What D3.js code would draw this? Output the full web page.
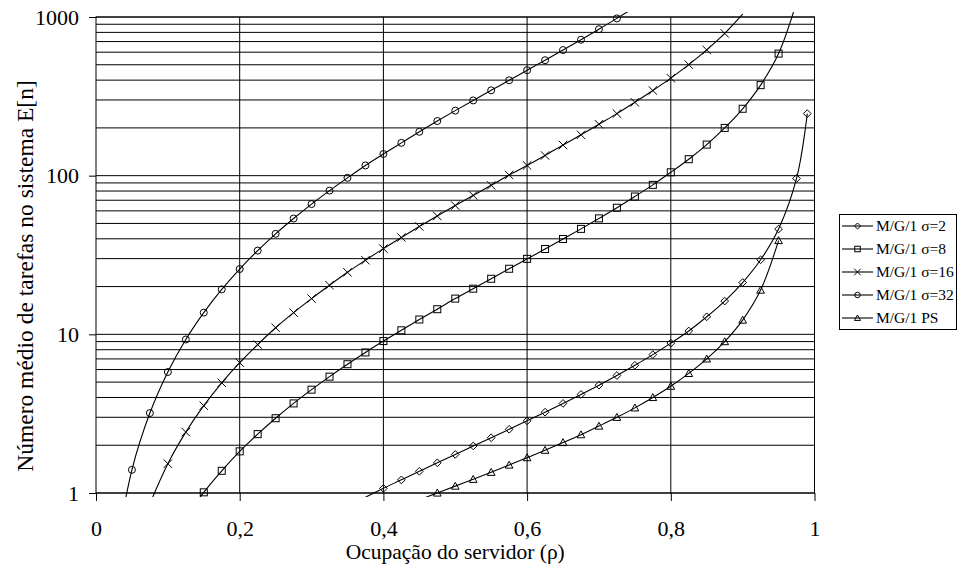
<!DOCTYPE html>
<html>
<head>
<meta charset="utf-8">
<script src="https://cdn.jsdelivr.net/npm/d3@7"></script>
<style>
  body { margin: 0; background: #fff; }
  svg { display: block; }
  svg text { font-family: "Liberation Serif", "Times New Roman", serif; }
</style>
</head>
<body>
<div id="container"></div>
<script>
// values
const rhoS2 = [0.375, 0.4, 0.425, 0.45, 0.475, 0.5, 0.525, 0.55, 0.575, 0.6, 0.625, 0.65, 0.675, 0.7, 0.725, 0.75, 0.775, 0.8, 0.825, 0.85, 0.875, 0.9, 0.925, 0.95, 0.975, 0.99];
const nS2 = [0.94, 1.07, 1.21, 1.37, 1.55, 1.75, 1.98, 2.23, 2.52, 2.85, 3.23, 3.67, 4.18, 4.78, 5.5, 6.38, 7.45, 8.8, 10.5, 12.9, 16.2, 21.2, 29.5, 46.1, 96, 246];

const rhoS8 = [0.125, 0.15, 0.175, 0.2, 0.225, 0.25, 0.275, 0.3, 0.325, 0.35, 0.375, 0.4, 0.425, 0.45, 0.475, 0.5, 0.525, 0.55, 0.575, 0.6, 0.625, 0.65, 0.675, 0.7, 0.725, 0.75, 0.775, 0.8, 0.825, 0.85, 0.875, 0.9, 0.925, 0.95, 0.975];
const nS8 = [0.705, 1.01, 1.38, 1.83, 2.35, 2.96, 3.67, 4.48, 5.41, 6.48, 7.69, 9.07, 10.6, 12.4, 14.4, 16.8, 19.4, 22.4, 25.9, 29.9, 34.5, 39.9, 46.2, 53.8, 62.8, 73.9, 87.5, 105, 127, 157, 200, 264, 372, 588, 1237];

const rhoS16 = [0.075, 0.1, 0.125, 0.15, 0.175, 0.2, 0.225, 0.25, 0.275, 0.3, 0.325, 0.35, 0.375, 0.4, 0.425, 0.45, 0.475, 0.5, 0.525, 0.55, 0.575, 0.6, 0.625, 0.65, 0.675, 0.7, 0.725, 0.75, 0.775, 0.8, 0.825, 0.85, 0.875, 0.9];
const nS16 = [0.856, 1.53, 2.42, 3.55, 4.95, 6.63, 8.62, 11.0, 13.7, 16.8, 20.4, 24.6, 29.3, 34.7, 40.8, 47.8, 55.7, 64.8, 75.1, 86.9, 101, 116, 134, 156, 181, 211, 246, 290, 344, 412, 501, 620, 788, 1042];

const rhoS32 = [0.025, 0.05, 0.075, 0.1, 0.125, 0.15, 0.175, 0.2, 0.225, 0.25, 0.275, 0.3, 0.325, 0.35, 0.375, 0.4, 0.425, 0.45, 0.475, 0.5, 0.525, 0.55, 0.575, 0.6, 0.625, 0.65, 0.675, 0.7, 0.725, 0.75];
const nS32 = [0.354, 1.4, 3.19, 5.79, 9.28, 13.7, 19.2, 25.8, 33.7, 43.0, 53.7, 66.2, 80.5, 96.9, 116, 137, 161, 189, 221, 257, 298, 345, 399, 462, 534, 619, 719, 838, 980, 1154];

const rhoPS = [0.45, 0.475, 0.5, 0.525, 0.55, 0.575, 0.6, 0.625, 0.65, 0.675, 0.7, 0.725, 0.75, 0.775, 0.8, 0.825, 0.85, 0.875, 0.9, 0.925, 0.95];
const nPS = [0.905, 1, 1.105, 1.22, 1.35, 1.5, 1.67, 1.86, 2.08, 2.33, 2.64, 3, 3.44, 4, 4.71, 5.67, 7, 9, 12.3, 19, 39];

const seriesNames = ["M/G/1 σ=2", "M/G/1 σ=8", "M/G/1 σ=16", "M/G/1 σ=32", "M/G/1 PS"];
const seriesMarkers = ["diamond", "square", "cross", "circle", "triangle"];
const xTicks = [0, 0.2, 0.4, 0.6, 0.8, 1];
const yTicks = [1, 10, 100, 1000];

const series = [
  { name: seriesNames[0], marker: seriesMarkers[0], rho: rhoS2, n: nS2 },
  { name: seriesNames[1], marker: seriesMarkers[1], rho: rhoS8, n: nS8 },
  { name: seriesNames[2], marker: seriesMarkers[2], rho: rhoS16, n: nS16 },
  { name: seriesNames[3], marker: seriesMarkers[3], rho: rhoS32, n: nS32 },
  { name: seriesNames[4], marker: seriesMarkers[4], rho: rhoPS, n: nPS }
];

const W = 958, H = 567;
const plot = { left: 96, right: 814.5, top: 17, bottom: 493 };

const svg = d3.select("#container").append("svg")
  .attr("width", W)
  .attr("height", H);

const x = d3.scaleLinear().domain([0, 1]).range([plot.left, plot.right]);
const y = d3.scaleLog().domain([1, 1000]).range([plot.bottom, plot.top]);

// horizontal gridlines at every log step
const minor = [];
[1, 10, 100].forEach(dec => {
  for (let k = 1; k <= 10; k++) minor.push(dec * k);
});
svg.append("g")
  .selectAll("line")
  .data(Array.from(new Set(minor)))
  .join("line")
  .attr("x1", plot.left).attr("x2", plot.right)
  .attr("y1", d => y(d)).attr("y2", d => y(d))
  .attr("stroke", "#000")
  .attr("stroke-width", 1);

// vertical gridlines
svg.append("g")
  .selectAll("line")
  .data(xTicks.slice(1, -1))
  .join("line")
  .attr("x1", d => x(d)).attr("x2", d => x(d))
  .attr("y1", plot.top).attr("y2", plot.bottom)
  .attr("stroke", "#000")
  .attr("stroke-width", 1);

// plot frame
svg.append("rect")
  .attr("x", plot.left).attr("y", plot.top)
  .attr("width", plot.right - plot.left)
  .attr("height", plot.bottom - plot.top)
  .attr("fill", "none")
  .attr("stroke", "#000")
  .attr("stroke-width", 1);

// y axis
const yAxis = svg.append("g")
  .attr("transform", `translate(${plot.left},0)`)
  .call(d3.axisLeft(y).tickValues(yTicks).tickFormat(d3.format("d")).tickSize(7).tickPadding(10));
yAxis.select(".domain").remove();
yAxis.selectAll("text").attr("fill", "#000").style("font-size", "22px");

// x axis
const xAxis = svg.append("g")
  .attr("transform", `translate(0,${plot.bottom})`)
  .call(d3.axisBottom(x).tickValues(xTicks)
    .tickFormat(d => d3.format("")(d).replace(".", ","))
    .tickSize(8).tickPadding(19));
xAxis.select(".domain").remove();
xAxis.selectAll("text").attr("fill", "#000").style("font-size", "22px");

// axis titles
svg.append("text")
  .attr("x", (plot.left + plot.right) / 2)
  .attr("y", 559)
  .attr("text-anchor", "middle")
  .style("font-size", "21.5px")
  .text("Ocupação do servidor (ρ)");

svg.append("text")
  .attr("transform", "translate(33,276) rotate(-90)")
  .attr("text-anchor", "middle")
  .style("font-size", "23.5px")
  .text("Número médio de tarefas no sistema E[n]");

// clip a bit outside the frame, like the reference
svg.append("clipPath").attr("id", "clip")
  .append("rect")
  .attr("x", plot.left).attr("y", plot.top - 5)
  .attr("width", plot.right - plot.left)
  .attr("height", plot.bottom - plot.top + 9);

const line = d3.line()
  .x(d => x(d[0]))
  .y(d => y(d[1]))
  .curve(d3.curveCatmullRom.alpha(0.5));

function drawMarker(g, type, s) {
  if (type === "circle") {
    g.append("circle").attr("r", s * 0.5);
  } else if (type === "square") {
    g.append("rect").attr("x", -s / 2).attr("y", -s / 2).attr("width", s).attr("height", s);
  } else if (type === "diamond") {
    const h = s * 0.55;
    g.append("path").attr("d", `M0,${-h}L${h},0L0,${h}L${-h},0Z`);
  } else if (type === "triangle") {
    const h = s * 0.55;
    g.append("path").attr("d", `M0,${-h}L${h},${h * 0.8}L${-h},${h * 0.8}Z`);
  } else if (type === "cross") {
    const h = s * 0.6;
    g.append("path").attr("d", `M${-h},${-h}L${h},${h}M${h},${-h}L${-h},${h}`);
  }
}

const plotG = svg.append("g").attr("clip-path", "url(#clip)");

series.forEach(s => {
  const pts = s.rho.map((r, i) => [r, s.n[i]]);
  plotG.append("path")
    .datum(pts)
    .attr("d", line)
    .attr("fill", "none")
    .attr("stroke", "#000")
    .attr("stroke-width", 1.1);

  pts.filter(p => p[1] >= 0.99 && p[1] <= 1001).forEach(p => {
    const g = svg.append("g")
      .attr("transform", `translate(${x(p[0])},${y(p[1])})`)
      .attr("fill", "none")
      .attr("stroke", "#000")
      .attr("stroke-width", 1);
    drawMarker(g, s.marker, 7);
  });
});

// legend
const legend = svg.append("g");
legend.append("rect")
  .attr("x", 839.5).attr("y", 214.5)
  .attr("width", 117).attr("height", 115)
  .attr("fill", "#fff")
  .attr("stroke", "#000")
  .attr("stroke-width", 1);

series.forEach((s, i) => {
  const cy = 226 + i * 23;
  legend.append("line")
    .attr("x1", 842).attr("x2", 873)
    .attr("y1", cy).attr("y2", cy)
    .attr("stroke", "#000").attr("stroke-width", 1.1);
  const g = legend.append("g")
    .attr("transform", `translate(857.5,${cy})`)
    .attr("fill", "none")
    .attr("stroke", "#000")
    .attr("stroke-width", 1);
  drawMarker(g, s.marker, 5.5);
  legend.append("text")
    .attr("x", 876)
    .attr("y", cy)
    .attr("dy", "0.35em")
    .style("font-size", "15.5px")
    .text(s.name);
});
</script>
</body>
</html>
